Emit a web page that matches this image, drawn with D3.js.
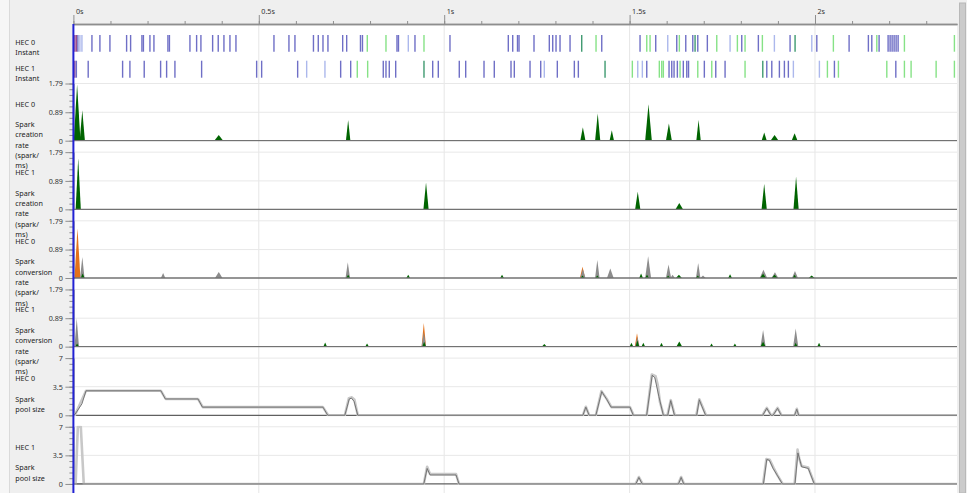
<!DOCTYPE html>
<html><head><meta charset="utf-8">
<script src="https://cdn.jsdelivr.net/npm/d3@7"></script>
<style>
body{margin:0;background:#efefef;overflow:hidden;}
svg{display:block;font-family:"Noto Sans",sans-serif;}
</style>
</head><body>
<svg id="c" width="967" height="493"></svg>
<script>
// ---------------- DATA (time in ms) ----------------
const timeDomain = [0, 2383];
const majorTicks = [0, 500, 1000, 1500, 2000];
const majorTickLabels = ["0s", "0.5s", "1s", "1.5s", "2s"];
const minorTicks = d3.range(0, 2383, 100);

const rateTicks = [0, 0.89, 1.79];
const rateTickLabels = ["0", "0.89", "1.79"];
const rateMax = 1.79;
const poolTicks = [0, 3.5, 7];
const poolTickLabels = ["0", "3.5", "7"];
const poolMax = 7;

// instant events: [time ms, kind]  p=purple l=light blue g=green d=dark green r=red-purple
const hec0Instants = [[4,'r'],[8,'r'],[12,'p'],[17.5,'l'],[23,'l'],[50,'p'],[71.5,'p'],[98.5,'p'],[143.5,'p'],[154.3,'p'],[184.8,'p'],[188.8,'p'],[206.4,'p'],[217.2,'p'],[254.9,'p'],[259,'p'],[314.3,'p'],[332.3,'p'],[343.9,'p'],[375.5,'p'],[390.6,'p'],[406,'p'],[422.2,'p'],[438.4,'p'],[540.9,'p'],[581.3,'p'],[597.5,'p'],[647.4,'p'],[660.4,'p'],[673.1,'p'],[686.5,'p'],[726.2,'p'],[737,'p'],[774.2,'p'],[779.6,'p'],[792.6,'g'],[843,'g'],[872.7,'p'],[876.7,'p'],[903.2,'l'],[921.2,'p'],[945.5,'g'],[1015.6,'p'],[1172.9,'p'],[1184.8,'p'],[1197.7,'p'],[1201.8,'p'],[1242.2,'p'],[1283.5,'p'],[1292.7,'p'],[1301.6,'p'],[1312.4,'p'],[1339.4,'p'],[1370.9,'d'],[1409.5,'g'],[1424.9,'p'],[1528.2,'p'],[1546.3,'g'],[1555.2,'g'],[1570.5,'p'],[1602.9,'l'],[1627.2,'p'],[1634.2,'g'],[1651.5,'p'],[1670.4,'p'],[1676.6,'d'],[1683.9,'p'],[1709.7,'p'],[1735.1,'g'],[1771,'l'],[1790.7,'g'],[1802.5,'p'],[1811.4,'g'],[1847.3,'p'],[1858.1,'g'],[1890.5,'l'],[1932.8,'p'],[1946.3,'d'],[1991.4,'l'],[2004.9,'p'],[2049.6,'g'],[2092,'p'],[2144,'p'],[2153.2,'p'],[2166.7,'g'],[2172.9,'p'],[2197.2,'p'],[2202.6,'p'],[2208,'p'],[2213.4,'p'],[2218.8,'p'],[2224.2,'p'],[2241.2,'g'],[2376,'g']];
const hec1Instants = [[4,'r'],[8,'p'],[39.9,'p'],[132.7,'p'],[152.4,'p'],[191,'p'],[235.2,'p'],[251.4,'p'],[273.8,'p'],[345.8,'p'],[494.2,'p'],[507.7,'p'],[604.8,'p'],[629.1,'l'],[678.4,'l'],[720.8,'p'],[747.8,'p'],[765.6,'g'],[793.6,'g'],[835.7,'p'],[843,'p'],[851.9,'p'],[869.2,'p'],[945.5,'d'],[969,'p'],[984.1,'p'],[1040.7,'p'],[1058,'p'],[1107.4,'p'],[1135.1,'p'],[1180.2,'p'],[1189.1,'p'],[1231.5,'p'],[1260.3,'p'],[1270,'l'],[1305.1,'p'],[1351,'p'],[1361.8,'p'],[1433.8,'d'],[1507.4,'g'],[1522,'l'],[1534.4,'l'],[1546.3,'p'],[1580.2,'g'],[1586.7,'g'],[1591,'g'],[1606.4,'p'],[1613.7,'p'],[1619.9,'p'],[1628.8,'p'],[1636.1,'g'],[1644.9,'p'],[1654.2,'p'],[1659,'p'],[1683.9,'g'],[1701.6,'p'],[1721.6,'g'],[1732.4,'p'],[1757.5,'p'],[1811.4,'g'],[1859.2,'d'],[1870,'p'],[1883.5,'p'],[1904,'p'],[1917.5,'p'],[1928.2,'p'],[1941.7,'l'],[2011.9,'l'],[2033.5,'g'],[2052.4,'p'],[2063.2,'g'],[2193.7,'g'],[2218,'p'],[2241.2,'g'],[2259.2,'g'],[2326.7,'g'],[2376,'g']];

// rate peaks: [time ms, value spark/ms, half-width ms]
const hec0CreationPeaks = [[10,1.76,9],[24,0.95,7],[392,0.18,12],[741,0.65,6],[1374,0.42,7],[1414,0.85,7],[1452,0.33,6],[1551,1.14,9],[1606,0.54,8],[1686,0.65,6],[1863,0.26,7],[1891,0.18,11],[1945,0.23,8]];
const hec1CreationPeaks = [[13,1.6,7],[951,0.84,7],[1522,0.55,7],[1634,0.2,10],[1863,0.8,7],[1949,1.03,7]];

const hec0ConvOrange = [[11,1.55,8],[1373,0.35,7]];
const hec0ConvGray = [[24,0.66,6],[242,0.16,6],[392,0.19,10],[740,0.49,6],[1374,0.28,7],[1413,0.56,6],[1448,0.3,9],[1550,0.68,8],[1605,0.42,7],[1616,0.1,6],[1685,0.47,6],[1698,0.08,7],[1861,0.26,10],[1892,0.18,9],[1946,0.22,8]];
const hec0ConvGreen = [[25,0.14,5],[741,0.1,5],[903,0.1,5],[1156,0.1,5],[1373,0.08,5],[1413,0.08,5],[1531,0.14,5],[1547,0.1,5],[1604,0.08,5],[1633,0.1,8],[1684,0.08,5],[1771,0.12,5],[1860,0.13,8],[1891,0.1,8],[1945,0.1,5],[1991,0.08,8]];

const hec1ConvOrange = [[945,0.74,6],[1520,0.42,6]];
const hec1ConvGray = [[9,0.89,6],[945,0.45,6],[1521,0.3,6],[1860,0.52,7],[1948,0.57,7]];
const hec1ConvGreen = [[10,0.1,5],[679,0.13,5],[792,0.1,5],[946,0.15,5],[1270,0.08,7],[1505,0.12,5],[1521,0.2,5],[1537,0.12,5],[1586,0.12,5],[1634,0.16,8],[1721,0.1,5],[1784,0.1,5],[1860,0.15,7],[1948,0.12,5],[2011,0.12,5]];

// spark pool: [time ms, value]
const hec0PoolMean = [[0,0],[4,0.1],[23,1.4],[34,3],[236,3],[248,2],[336,2],[348,1],[673,1],[686,0],[732,0],[744,2.0],[750,2.1],[757,1.7],[767,0],[1374,0],[1382,1.0],[1391,0],[1409,0],[1425,2.9],[1438,1.97],[1450,1.0],[1501,1.0],[1510,0],[1546,0],[1561,4.9],[1568,4.6],[1579,2.3],[1591,0],[1603,0],[1611,1.8],[1621,0],[1681,0],[1688,1.9],[1695,1.1],[1705,0],[1859,0],[1870,0.86],[1881,0],[1887,0],[1899,0.86],[1909,0],[1945,0],[1951,0.74],[1956,0],[2383,0]];
const hec0PoolMax = [[0,0],[4,0],[34,3],[236,3],[249,2],[336,2],[349,1],[673,1],[687,0],[732,0],[743,2.1],[751,2.2],[758,1.9],[767,0],[1374,0],[1382,1.05],[1391,0],[1409,0],[1424,2.95],[1440,1.9],[1451,1.0],[1501,1.0],[1511,0],[1546,0],[1560,5.0],[1570,4.8],[1576,3.7],[1582,1.6],[1592,0],[1602,0],[1611,1.85],[1622,0],[1680,0],[1688,1.95],[1697,1.0],[1706,0],[1858,0],[1870,0.9],[1882,0],[1886,0],[1899,0.9],[1910,0],[1945,0],[1951,0.8],[1956,0],[2383,0]];
const hec1PoolMean = [[0,0],[945,0],[954,1.9],[962,1.1],[1032,1.1],[1040,0],[1517,0],[1525,0.8],[1534,0],[1632,0],[1639,0.8],[1646,0],[1861,0],[1870,3.0],[1877,2.9],[1887,1.9],[1899,1.0],[1912,0],[1946,0],[1954,3.8],[1964,2.1],[1982,1.9],[1998,0],[2383,0]];
const hec1PoolMax = [[0,0],[6,0],[12,7],[20,7],[28,0],[945,0],[954,2.1],[962,1.2],[1032,1.2],[1040,0],[1516,0],[1525,0.85],[1535,0],[1631,0],[1639,0.85],[1647,0],[1860,0],[1869,3.05],[1878,2.95],[1888,2.0],[1899,1.05],[1913,0],[1945,0],[1953,4.2],[1958,3.0],[1964,2.2],[1982,2.0],[1999,0],[2383,0]];

const creationLabel = ["Spark","creation","rate","(spark/","ms)"];
const conversionLabel = ["Spark","conversion","rate","(spark/","ms)"];
const poolLabel = ["Spark","pool size"];

// ---------------- LAYOUT ----------------
const W = 967, H = 493;
const plotL = 73.4, plotR = 957, rulerY = 24;
const svg = d3.select("#c");
const x = d3.scaleLinear().domain(timeDomain).range([plotL, plotR]);
const kindColor = {p:"#6f6fc6", l:"#acb8ec", g:"#86e286", d:"#3f9a70", r:"#9c4c8c"};

// backgrounds
svg.append("rect").attr("width", W).attr("height", H).attr("fill", "#efefef");
svg.append("rect").attr("x", 0).attr("y", 0).attr("width", 9).attr("height", H).attr("fill", "#f6f6f6");
svg.append("line").attr("x1", 9.5).attr("x2", 9.5).attr("y1", 0).attr("y2", H).attr("stroke", "#dadada");
svg.append("rect").attr("x", plotL).attr("y", rulerY).attr("width", plotR - plotL).attr("height", H - rulerY).attr("fill", "#fff");
// scrollbar
svg.append("rect").attr("x", 959.5).attr("y", 3).attr("width", 6).attr("height", H - 3).attr("fill", "#cbcbcb").attr("stroke", "#b8b8b8");

// vertical grid
svg.append("g").selectAll("line").data(majorTicks.filter(d => d > 0)).join("line")
  .attr("x1", d => x(d)).attr("x2", d => x(d)).attr("y1", rulerY).attr("y2", H)
  .attr("stroke", "#e6e6e6").attr("stroke-width", 1);

// ruler
const ruler = svg.append("g").attr("transform", `translate(0,${rulerY})`);
ruler.call(d3.axisTop(x).tickValues(minorTicks).tickSize(3).tickSizeOuter(0).tickFormat(""));
const rulerMajor = svg.append("g").attr("transform", `translate(0,${rulerY})`)
  .call(d3.axisTop(x).tickValues(majorTicks).tickSize(9).tickSizeOuter(0).tickFormat((d, i) => majorTickLabels[i]));
[ruler, rulerMajor].forEach(g => {
  g.selectAll("path.domain").attr("stroke", "#8e8e8e").attr("stroke-width", 1.3);
  g.selectAll(".tick line").attr("stroke", "#8e8e8e");
});
rulerMajor.selectAll(".tick text").attr("text-anchor", "start").attr("x", 2).attr("y", -10)
  .attr("font-size", 7.2).attr("fill", "#333").attr("font-family", '"Noto Sans",sans-serif');

// instant rows
function labelBlock(lines, xPos, yFirst, step) {
  const t = svg.append("text").attr("font-size", 7.2).attr("fill", "#222");
  lines.forEach((s, i) => {
    t.append("tspan").attr("x", xPos).attr("y", yFirst + i * step).text(s);
  });
}
labelBlock(["HEC 0", "Instant"], 15.3, 44.8, 10);
labelBlock(["HEC 1", "Instant"], 15.3, 70.8, 10);

function drawInstants(data, y0, y1) {
  svg.append("g").selectAll("line").data(data).join("line")
    .attr("x1", d => x(d[0])).attr("x2", d => x(d[0]))
    .attr("y1", y0).attr("y2", y1)
    .attr("stroke", d => kindColor[d[1]]).attr("stroke-width", 1.4);
}
drawInstants(hec0Instants, 35, 51.7);
drawInstants(hec1Instants, 60.7, 77.7);

// panels
const panelH = 57.2, firstBase = 140.7, step = 68.65;
const panels = [
  {hec:"HEC 0", lab:creationLabel, type:"rate", layers:[[hec0CreationPeaks, "#006400"]]},
  {hec:"HEC 1", lab:creationLabel, type:"rate", layers:[[hec1CreationPeaks, "#006400"]]},
  {hec:"HEC 0", lab:conversionLabel, type:"rate", layers:[[hec0ConvOrange, "#e4711a"], [hec0ConvGray, "#8c8c8c"], [hec0ConvGreen, "#006400"]]},
  {hec:"HEC 1", lab:conversionLabel, type:"rate", layers:[[hec1ConvOrange, "#e4711a"], [hec1ConvGray, "#8c8c8c"], [hec1ConvGreen, "#006400"]]},
  {hec:"HEC 0", lab:poolLabel, type:"pool", mean:hec0PoolMean, max:hec0PoolMax},
  {hec:"HEC 1", lab:poolLabel, type:"pool", mean:hec1PoolMean, max:hec1PoolMax}
];

panels.forEach((p, i) => {
  const base = firstBase + i * step, top = base - panelH;
  const isRate = p.type === "rate";
  const vmax = isRate ? rateMax : poolMax;
  const y = d3.scaleLinear().domain([0, vmax]).range([base, top]);
  const ticks = isRate ? rateTicks : poolTicks;
  const tickLabels = isRate ? rateTickLabels : poolTickLabels;

  // horizontal grid (top & middle)
  svg.append("g").selectAll("line").data(ticks.slice(1)).join("line")
    .attr("x1", plotL).attr("x2", plotR).attr("y1", d => y(d)).attr("y2", d => y(d))
    .attr("stroke", "#e8e8e8").attr("stroke-width", 1);

  // y axis minor + major
  const minor = d3.range(0, 11).map(k => vmax * k / 10);
  const gMin = svg.append("g").attr("transform", `translate(${plotL},0)`)
    .call(d3.axisLeft(y).tickValues(minor).tickSize(4).tickSizeOuter(0).tickFormat(""));
  const gMaj = svg.append("g").attr("transform", `translate(${plotL},0)`)
    .call(d3.axisLeft(y).tickValues(ticks).tickSize(8).tickSizeOuter(0).tickFormat((d, k) => tickLabels[k]));
  [gMin, gMaj].forEach(g => {
    g.selectAll("path.domain").attr("stroke", "#8e8e8e");
    g.selectAll(".tick line").attr("stroke", "#8e8e8e");
  });
  gMaj.selectAll(".tick text").attr("font-size", 7.2).attr("fill", "#333").attr("x", -10.5)
    .attr("font-family", '"Noto Sans",sans-serif');

  // clip
  const cid = "clip" + i;
  svg.append("clipPath").attr("id", cid).append("rect")
    .attr("x", plotL).attr("y", top - 1).attr("width", plotR - plotL).attr("height", panelH + 2);
  const g = svg.append("g").attr("clip-path", `url(#${cid})`);

  if (isRate) {
    const area = d3.area().x(d => x(d[0])).y0(y(0)).y1(d => y(d[1]));
    p.layers.forEach(([peaks, col]) => {
      g.append("g").selectAll("path").data(peaks).join("path")
        .attr("d", d => area([[d[0] - d[2], 0], [d[0], d[1]], [d[0] + d[2], 0]]))
        .attr("fill", col);
    });
    g.append("line").attr("x1", plotL).attr("x2", plotR).attr("y1", y(0)).attr("y2", y(0))
      .attr("stroke", "#727272").attr("stroke-width", 1.3);
  } else {
    g.append("line").attr("x1", plotL).attr("x2", plotR).attr("y1", y(0)).attr("y2", y(0))
      .attr("stroke", "#606060").attr("stroke-width", 1.2);
    const line = d3.line().x(d => x(d[0])).y(d => y(d[1]));
    g.append("path").attr("d", line(p.max)).attr("fill", "none")
      .attr("stroke", "#c8c8c8").attr("stroke-width", 2.6).attr("stroke-linejoin", "round");
    g.append("path").attr("d", line(p.mean)).attr("fill", "none")
      .attr("stroke", "#6a6a6a").attr("stroke-width", 0.9).attr("stroke-linejoin", "round");
  }

  // label
  labelBlock([p.hec, ""].concat(p.lab), 15.3, top + 23, 10.3);
});

// cursor line at 0
svg.append("line").attr("x1", x(0)).attr("x2", x(0)).attr("y1", rulerY).attr("y2", H)
  .attr("stroke", "#2222d4").attr("stroke-width", 2);
</script>
</body></html>
